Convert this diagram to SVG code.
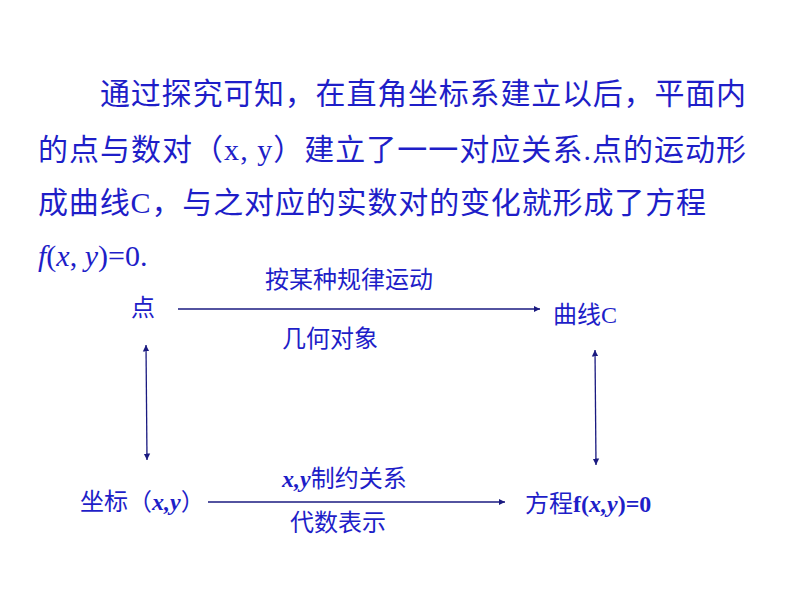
<svg xmlns="http://www.w3.org/2000/svg" width="794" height="596" viewBox="0 0 794 596">
<style>
.t{font-family:"Liberation Serif","Noto Sans CJK SC",serif;fill:#1e1ec8;font-size:30px}
.s{font-family:"Liberation Serif","Noto Sans CJK SC",serif;fill:#1e1ec8;font-size:24px}
.l{stroke:#1a1a80;stroke-width:1.3;fill:none}
</style>
<defs><marker id="a" markerWidth="6" markerHeight="6" refX="5" refY="3" orient="auto-start-reverse"><path d="M0,0.5 L5,3 L0,5.5z" fill="#1a1a80"/></marker></defs>
<rect width="794" height="596" fill="#fff"/>
<g id="para">
<text class="t" x="100" y="104" textLength="646">通过探究可知，在直角坐标系建立以后，平面内</text>
<text class="t" x="38" y="160" textLength="708">的点与数对（x, y）建立了一一对应关系.点的运动形</text>
<text class="t" x="38" y="213" textLength="668">成曲线C，与之对应的实数对的变化就形成了方程</text>
<text class="t" x="38" y="266"><tspan font-style="italic">f</tspan>(<tspan font-style="italic">x</tspan>, <tspan font-style="italic">y</tspan>)=0.</text>
</g>
<g id="n1"><text class="s" x="131" y="316">点</text></g>
<g id="n2"><text class="s" x="553" y="323">曲线C</text></g>
<g id="n3"><text class="s" x="80" y="510">坐标（<tspan font-weight="bold" font-style="italic">x,y</tspan>）</text></g>
<g id="n4"><text class="s" x="525" y="512">方程<tspan font-weight="bold">f(<tspan font-style="italic">x,y</tspan>)=0</tspan></text></g>
<g id="edges">
<line class="l" x1="178" y1="309" x2="540" y2="309" marker-end="url(#a)"/>
<line class="l" x1="146" y1="345" x2="147" y2="460" marker-start="url(#a)" marker-end="url(#a)"/>
<line class="l" x1="595" y1="350" x2="596" y2="465" marker-start="url(#a)" marker-end="url(#a)"/>
<line class="l" x1="208" y1="502" x2="505" y2="502" marker-end="url(#a)"/>
<text class="s" x="265" y="288">按某种规律运动</text>
<text class="s" x="282" y="347">几何对象</text>
<text class="s" x="282" y="487"><tspan font-weight="bold" font-style="italic">x,y</tspan>制约关系</text>
<text class="s" x="290" y="531">代数表示</text>
</g>
</svg>
